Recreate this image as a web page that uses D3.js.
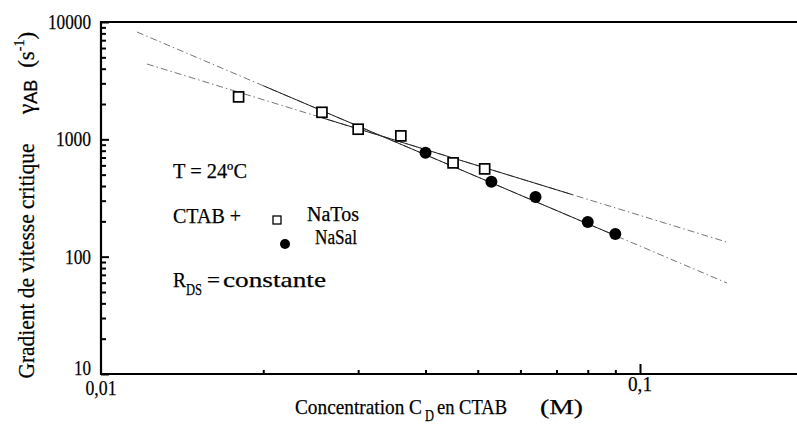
<!DOCTYPE html>
<html><head><meta charset="utf-8">
<script src="https://cdn.jsdelivr.net/npm/d3@7"></script>
<style>body{margin:0;background:#fff}svg{display:block}text{font-family:"Liberation Serif","Times New Roman",serif;fill:#000;stroke:#000;stroke-width:0.25px}</style>
</head><body><svg id="c" width="797" height="425"></svg>
<script>
// ---- data ----
const natosX = [0.018, 0.0257, 0.030, 0.036, 0.045, 0.0515];
const natosY = [2300, 1700, 1220, 1070, 630, 560];
const nasalX = [0.040, 0.053, 0.064, 0.080, 0.090];
const nasalY = [770, 435, 322, 197, 156];
// fitted lines (end points) and their solid part
const fitNaTosX = [0.01217, 0.145];
const fitNaTosY = [4385, 133];
const fitNaTosSolid = [0.0252, 0.075];
const fitNaSalX = [0.01166, 0.145];
const fitNaSalY = [8219, 59.6];
const fitNaSalSolid = [0.020, 0.0915];
const yTickValues = [10, 100, 1000, 10000];
const yTickLabels = ["10", "100", "1000", "10000"];
const xTickValues = [0.01, 0.1];
const xTickLabels = ["0,01", "0,1"];

const svg = d3.select("#c");
const L = 101, T = 22, B = 374, R = 797;
const x = d3.scaleLog().domain([0.01, 0.2]).range([L, L + 539 * Math.log10(20)]);
const y = d3.scaleLog().domain([10, 10000]).range([B, T]);

// minor tick values
const yMinor = [], xMinor = [];
for (let d = 10; d < 10000; d *= 10) for (let k = 2; k <= 9; k++) yMinor.push(d * k);
for (let d = 0.01; d < 0.2; d *= 10) for (let k = 2; k <= 9; k++) if (d * k <= 0.2) xMinor.push(d * k);

// ticks (inward), drawn with d3 axes
const gl = svg.append("g").attr("class", "ax").attr("transform", `translate(${L},0)`);
gl.append("g").call(d3.axisRight(y).tickValues(yMinor).tickSize(5).tickFormat(() => ""));
gl.append("g").call(d3.axisRight(y).tickValues(yTickValues).tickSize(8).tickFormat(() => ""));
const gb = svg.append("g").attr("class", "ax").attr("transform", `translate(0,${B})`);
gb.append("g").call(d3.axisTop(x).tickValues(xMinor).tickSize(4).tickFormat(() => ""));
gb.append("g").call(d3.axisTop(x).tickValues([0.1]).tickSize(10).tickFormat(() => ""));
svg.selectAll(".ax .domain").remove();
svg.selectAll(".ax line").attr("stroke", "#000").attr("stroke-width", 2);

// frame
svg.append("line").attr("x1", L).attr("x2", L).attr("y1", T - 1).attr("y2", B + 1).attr("stroke", "#000").attr("stroke-width", 2.2);
svg.append("line").attr("x1", L).attr("x2", R).attr("y1", B).attr("y2", B).attr("stroke", "#000").attr("stroke-width", 2.2);
svg.append("line").attr("x1", L).attr("x2", R).attr("y1", T).attr("y2", T).attr("stroke", "#000").attr("stroke-width", 2.2);

// tick labels
const yW = {"10": 17, "100": 26, "1000": 35, "10000": 43};
yTickValues.forEach((v, i) => {
  svg.append("text").attr("x", 91).attr("y", v === 10 ? 375 : y(v) + 7)
    .attr("text-anchor", "end").attr("font-size", 22)
    .attr("textLength", yW[yTickLabels[i]]).attr("lengthAdjust", "spacingAndGlyphs")
    .text(yTickLabels[i]);
});
const xW = [31, 24];
xTickValues.forEach((v, i) => {
  svg.append("text").attr("x", x(v)).attr("y", i === 0 ? 395 : 391)
    .attr("text-anchor", "middle").attr("font-size", 22)
    .attr("textLength", xW[i]).attr("lengthAdjust", "spacingAndGlyphs")
    .text(xTickLabels[i]);
});

// fit lines
function fitY(xs, ys, xv) {
  const t = (Math.log10(xv) - Math.log10(xs[0])) / (Math.log10(xs[1]) - Math.log10(xs[0]));
  return Math.pow(10, Math.log10(ys[0]) + t * (Math.log10(ys[1]) - Math.log10(ys[0])));
}
const line = d3.line().x(d => x(d[0])).y(d => y(d[1]));
function drawFit(xs, ys, solid) {
  svg.append("path").datum([[xs[0], ys[0]], [xs[1], ys[1]]]).attr("d", line)
    .attr("fill", "none").attr("stroke", "#777").attr("stroke-width", 1)
    .attr("stroke-dasharray", "7,3,1.5,3");
  svg.append("path").datum([[solid[0], fitY(xs, ys, solid[0])], [solid[1], fitY(xs, ys, solid[1])]]).attr("d", line)
    .attr("fill", "none").attr("stroke", "#222").attr("stroke-width", 1);
}
drawFit(fitNaTosX, fitNaTosY, fitNaTosSolid);
drawFit(fitNaSalX, fitNaSalY, fitNaSalSolid);

// markers
svg.append("g").selectAll("circle").data(nasalX.map((v, i) => [v, nasalY[i]])).join("circle")
  .attr("cx", d => x(d[0])).attr("cy", d => y(d[1])).attr("r", 6).attr("fill", "#000");
const s = 10;
svg.append("g").selectAll("rect").data(natosX.map((v, i) => [v, natosY[i]])).join("rect")
  .attr("x", d => x(d[0]) - s / 2).attr("y", d => y(d[1]) - s / 2).attr("width", s).attr("height", s)
  .attr("fill", "#fff").attr("stroke", "#000").attr("stroke-width", 1.7);

// annotations / legend
function txt(str, xx, yy, w, fs) {
  return svg.append("text").attr("x", xx).attr("y", yy).attr("font-size", fs || 22)
    .attr("textLength", w).attr("lengthAdjust", "spacingAndGlyphs").text(str);
}
function multi(parts, fs) {
  const t = svg.append("text").attr("font-size", fs || 22);
  parts.forEach(p => {
    const ts = t.append("tspan").attr("x", p[1]).attr("y", p[2])
      .attr("textLength", p[3]).attr("lengthAdjust", "spacingAndGlyphs").text(p[0]);
    if (p[4]) ts.attr("font-size", p[4]);
  });
  return t;
}
txt("T = 24ºC", 173, 178, 74);
txt("CTAB +", 173, 223, 68);
svg.append("rect").attr("x", 273).attr("y", 216).attr("width", 8).attr("height", 8)
  .attr("fill", "#fff").attr("stroke", "#000").attr("stroke-width", 1.3);
svg.append("circle").attr("cx", 285).attr("cy", 244).attr("r", 5).attr("fill", "#000");
multi([["NaTos", 307, 221, 52], ["NaSal", 315, 244, 42]], 20);
multi([["R", 173, 287, 13], ["DS", 186, 295, 16, 16], ["=", 207, 287, 13], ["constante", 223, 287, 103]]);

// axis titles
multi([["Concentration C", 295, 414, 127], ["D", 425, 421, 9, 17], ["en CTAB", 437, 414, 70], ["(M)", 540, 414, 43]]);

svg.append("text").attr("transform", "translate(34,261) rotate(-90)").attr("text-anchor", "middle")
  .attr("font-size", 23).attr("textLength", 235).attr("lengthAdjust", "spacingAndGlyphs")
  .text("Gradient de vitesse critique");
const yt = svg.append("text").attr("transform", "translate(34,114) rotate(-90)").attr("font-size", 23);
yt.append("tspan").text("γ");
yt.append("tspan").attr("font-family", "Liberation Sans, Arial, sans-serif").attr("font-size", 18).attr("dy", 3).text("AB");
yt.append("tspan").attr("dy", -3).attr("dx", 12).text("(s");
yt.append("tspan").attr("font-size", 14).attr("dy", -10).text("-1");
yt.append("tspan").attr("dy", 10).text(")");
</script></body></html>
